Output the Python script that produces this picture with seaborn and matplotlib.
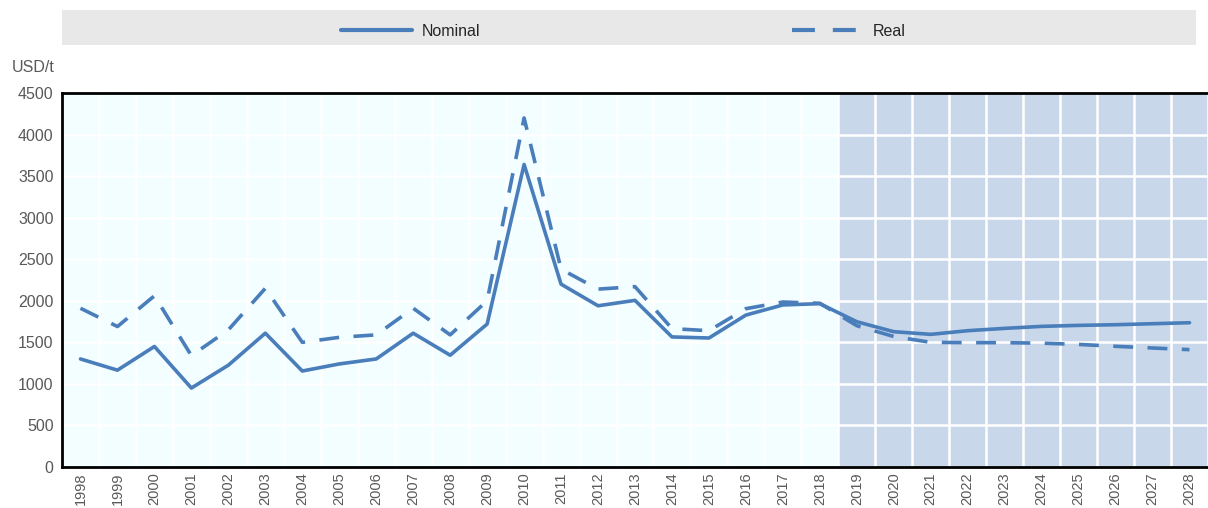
import numpy as np
import pandas as pd
import matplotlib
matplotlib.use("Agg")
import matplotlib.pyplot as plt
from matplotlib.lines import Line2D
import seaborn as sns

years = list(range(1998, 2029))
nominal = [1300, 1165, 1450, 950, 1225, 1610, 1155, 1240, 1300, 1610,
           1345, 1720, 3640, 2200, 1940, 2005, 1565, 1552, 1828, 1950,
           1965, 1748, 1628, 1596, 1640, 1668, 1692, 1704, 1712, 1724, 1736]
real = [1910, 1690, 2060, 1340, 1650, 2150, 1500, 1560, 1590, 1910,
        1590, 2000, 4200, 2380, 2140, 2170, 1665, 1640, 1905, 1985,
        1970, 1700, 1570, 1500, 1496, 1496, 1490, 1475, 1452, 1432, 1412]
proj_start = 2019
legend_labels = ["Nominal", "Real"]

df = pd.DataFrame({"year": years, "Nominal": nominal, "Real": real})

sns.set_style("white")
plt.rcParams['font.family'] = ['Liberation Sans', 'DejaVu Sans']

blue = "#4a7ebb"
dash = (0, (5.5, 4))

fig = plt.figure(figsize=(12.08, 5.08), dpi=100)
ax = fig.add_axes([62 / 1208, 1 - 467 / 508, 1146 / 1208, 374 / 508])
ax.set_facecolor("#f2feff")

sns.lineplot(data=df, x="year", y="Nominal", ax=ax, color=blue, lw=2.6, zorder=3)
sns.lineplot(data=df, x="year", y="Real", ax=ax, color=blue, lw=2.6,
             linestyle=dash, zorder=3)

ax.axvspan(proj_start - 0.5, years[-1] + 0.5, color="#c8d7ea", lw=0, zorder=0.3)

ax.set_xlim(years[0] - 0.5, years[-1] + 0.5)
ax.set_ylim(0, 4500)
ax.set_yticks(range(0, 4501, 500))
ax.set_xticks(years)
ax.set_xticklabels([str(y) for y in years], rotation=90)
ax.set_xticks(np.arange(years[0] - 0.5, years[-1] + 1), minor=True)
ax.tick_params(axis="x", which="major", length=0, pad=4, labelsize=10.5, labelcolor="#595959")
ax.tick_params(axis="x", which="minor", length=5, width=1.3, color="black", direction="out")
ax.tick_params(axis="y", length=5, width=1.3, color="black", direction="in",
               labelsize=11.5, labelcolor="#595959", pad=6)
ax.set_xlabel("")
ax.set_ylabel("")

ax.set_axisbelow(True)
ax.grid(axis="y", color="white", lw=1.8)
ax.grid(axis="x", which="minor", color="white", lw=1.8)
ax.grid(axis="x", which="major", visible=False)

for s in ["left", "bottom", "top"]:
    ax.spines[s].set_visible(True)
    ax.spines[s].set_color("black")
    ax.spines[s].set_linewidth(2)
ax.spines["right"].set_visible(False)

fig.text(12 / 1208, 1 - 68 / 508, "USD/t", fontsize=11.5, color="#595959", va="center")

# legend band
leg_ax = fig.add_axes([62 / 1208, 1 - 45 / 508, 1134 / 1208, 35 / 508])
leg_ax.set_facecolor("#e8e8e8")
leg_ax.set_xticks([])
leg_ax.set_yticks([])
for s in leg_ax.spines.values():
    s.set_visible(False)
handles = [Line2D([], [], color=blue, lw=3),
           Line2D([], [], color=blue, lw=3, linestyle=(0, (5.5, 4.3)))]
leg_ax.legend(handles, legend_labels, loc="center", ncol=2, frameon=False,
              fontsize=11.5, handlelength=4.4, handletextpad=0.65,
              columnspacing=19.5, bbox_to_anchor=(0.495, 0.4))

fig.savefig("out.png", dpi=100)
